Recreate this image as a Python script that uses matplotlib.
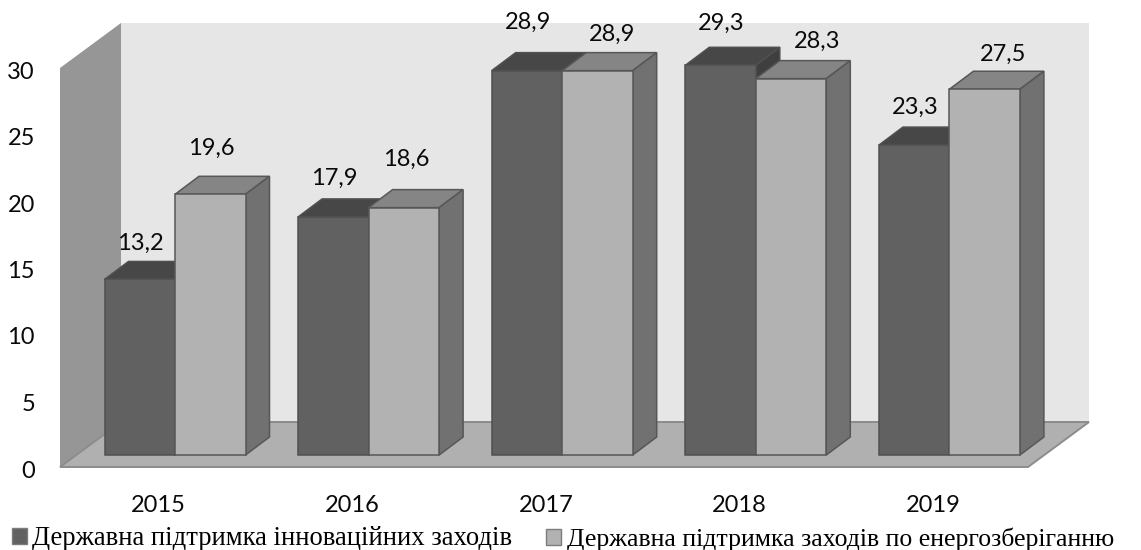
import matplotlib
matplotlib.use('Agg')
import matplotlib.pyplot as plt
import matplotlib.patches as mpatches
import matplotlib.transforms as mtransforms
import numpy as np

YEARS = ['2015', '2016', '2017', '2018', '2019']
INNOVATION = [13.2, 17.9, 28.9, 29.3, 23.3]
ENERGY = [19.6, 18.6, 28.9, 28.3, 27.5]
INNOVATION_TEXT = ['13,2', '17,9', '28,9', '29,3', '23,3']
ENERGY_TEXT = ['19,6', '18,6', '28,9', '28,3', '27,5']
Y_TICKS = [0, 5, 10, 15, 20, 25, 30]

LEGEND_LABELS = ['Державна підтримка інноваційних заходів',
                 'Державна підтримка заходів по енергозберіганню']

# Label offsets from the top centre of the bar front, in pixels.
INNOVATION_OFFSETS = [(1, 36), (1, 39), (1, 48), (1, 42), (1, 38)]
ENERGY_OFFSETS = [(1, 46), (2, 48), (15, 36), (26, 37), (18, 35)]

WIDTH_PX, HEIGHT_PX = 1141, 550
AX_LEFT, AX_RIGHT = 60, 1028
AX_TOP, AX_BOTTOM = 68, 467

PX_X = 5.0 / (AX_RIGHT - AX_LEFT)
PX_Y = 30.0 / (AX_BOTTOM - AX_TOP)

# Depth of the whole chart floor and of a single bar, in data units.
WALL_DX, WALL_DY = 61 * PX_X, 45 * PX_Y
BAR_DX, BAR_DY = 24 * PX_X, 18 * PX_Y
SHIFT_X, SHIFT_Y = 18.2 * PX_X, 12 * PX_Y
BAR_W = 70.5 * PX_X

DARK = {'front': '#616161', 'top': '#474747', 'side': '#3f3f3f', 'edge': '#505050'}
LIGHT = {'front': '#b2b2b2', 'top': '#858585', 'side': '#717171', 'edge': '#575757'}

NUM_FONT = {'family': 'Lato', 'fontsize': 17, 'color': '#0a0a0a'}


def draw_poly(ax, points, facecolor, edgecolor='none', linewidth=0.0, zorder=1):
    ax.add_patch(mpatches.Polygon(points, closed=True, facecolor=facecolor, edgecolor=edgecolor,
                                  linewidth=linewidth, joinstyle='miter', clip_on=False, zorder=zorder))


def draw_box(ax, left, value, colors, zorder):
    '''Draw one pseudo 3D bar from its front left corner and value'''
    x0 = left + SHIFT_X
    x1 = x0 + BAR_W
    y0 = SHIFT_Y
    y1 = value + SHIFT_Y
    draw_poly(ax, [(x0, y1), (x1, y1), (x1 + BAR_DX, y1 + BAR_DY), (x0 + BAR_DX, y1 + BAR_DY)],
              colors['top'], colors['edge'], 1.1, zorder)
    draw_poly(ax, [(x1, y0), (x1 + BAR_DX, y0 + BAR_DY), (x1 + BAR_DX, y1 + BAR_DY), (x1, y1)],
              colors['side'], colors['edge'], 1.1, zorder)
    draw_poly(ax, [(x0, y0), (x1, y0), (x1, y1), (x0, y1)],
              colors['front'], colors['edge'], 1.1, zorder)
    return (x0 + x1) / 2, y1


def add_legend_entry(fig, label, facecolor, x_px, size, textpad):
    handle = mpatches.Patch(facecolor=facecolor, edgecolor='#7d7d7d', linewidth=1.0)
    legend = fig.legend(handles=[handle], labels=[label], loc='lower left',
                        bbox_to_anchor=(x_px / WIDTH_PX, -0.002), frameon=False,
                        prop={'family': 'Liberation Serif', 'size': size},
                        handlelength=10.8 / size, handleheight=10.8 / size, handletextpad=textpad,
                        borderpad=0.0, borderaxespad=0.0)
    return legend


def main():
    fig = plt.figure(figsize=(WIDTH_PX / 100, HEIGHT_PX / 100), dpi=100)
    ax = fig.add_axes([AX_LEFT / WIDTH_PX, 1 - AX_BOTTOM / HEIGHT_PX,
                       (AX_RIGHT - AX_LEFT) / WIDTH_PX, (AX_BOTTOM - AX_TOP) / HEIGHT_PX])
    ax.set_xlim(-0.5, 4.5)
    ax.set_ylim(0, 30)
    ax.patch.set_visible(False)
    for spine in ax.spines.values():
        spine.set_visible(False)

    # Walls and floor.
    x0, x1 = -0.5, 4.5
    draw_poly(ax, [(x0 + WALL_DX, WALL_DY), (x1 + WALL_DX, WALL_DY),
                   (x1 + WALL_DX, 30 + WALL_DY), (x0 + WALL_DX, 30 + WALL_DY)], '#e6e6e6')
    draw_poly(ax, [(x0, 0), (x0 + WALL_DX, WALL_DY), (x0 + WALL_DX, 30 + WALL_DY), (x0, 30)], '#969696')
    draw_poly(ax, [(x0, 0), (x1, 0), (x1 + WALL_DX, WALL_DY), (x0 + WALL_DX, WALL_DY)],
              '#b0b0b0', '#8c8c8c', 1.4, 2)

    # Bars and their value labels.
    for i in range(len(YEARS)):
        left = i - BAR_W
        zorder = 3 + i
        top_a = draw_box(ax, left, INNOVATION[i], DARK, zorder)
        top_b = draw_box(ax, left + BAR_W, ENERGY[i], LIGHT, zorder)
        for top, text, offset in ((top_a, INNOVATION_TEXT[i], INNOVATION_OFFSETS[i]),
                                  (top_b, ENERGY_TEXT[i], ENERGY_OFFSETS[i])):
            ax.annotate(text, xy=top, xytext=(offset[0] * 0.72, offset[1] * 0.72),
                        textcoords='offset points', ha='center', va='center',
                        annotation_clip=False, zorder=20, **NUM_FONT)

    # Axis labels.
    ax.set_xticks(np.arange(len(YEARS)))
    ax.set_xticklabels(YEARS, **NUM_FONT)
    ax.set_yticks(Y_TICKS)
    ax.set_yticklabels([str(t) for t in Y_TICKS], **NUM_FONT)
    ax.tick_params(axis='x', length=0, pad=20)
    ax.tick_params(axis='y', length=0, pad=18)

    # The value axis labels sit slightly below the wall ticks, the years slightly to the right.
    nudge_y = mtransforms.ScaledTranslation(0, -2 / 100, fig.dpi_scale_trans)
    for label in ax.get_yticklabels():
        label.set_transform(label.get_transform() + nudge_y)
    nudge_x = mtransforms.ScaledTranslation(2 / 100, 0, fig.dpi_scale_trans)
    for label in ax.get_xticklabels():
        label.set_transform(label.get_transform() + nudge_x)

    # Legend entries are set apart, the two texts differ a little in width.
    add_legend_entry(fig, LEGEND_LABELS[0], DARK['front'], 12, 19.15, 0.19)
    add_legend_entry(fig, LEGEND_LABELS[1], LIGHT['front'], 546, 18.55, 0.23)

    fig.savefig('out.png', dpi=100)


if __name__ == "__main__":
    main()
